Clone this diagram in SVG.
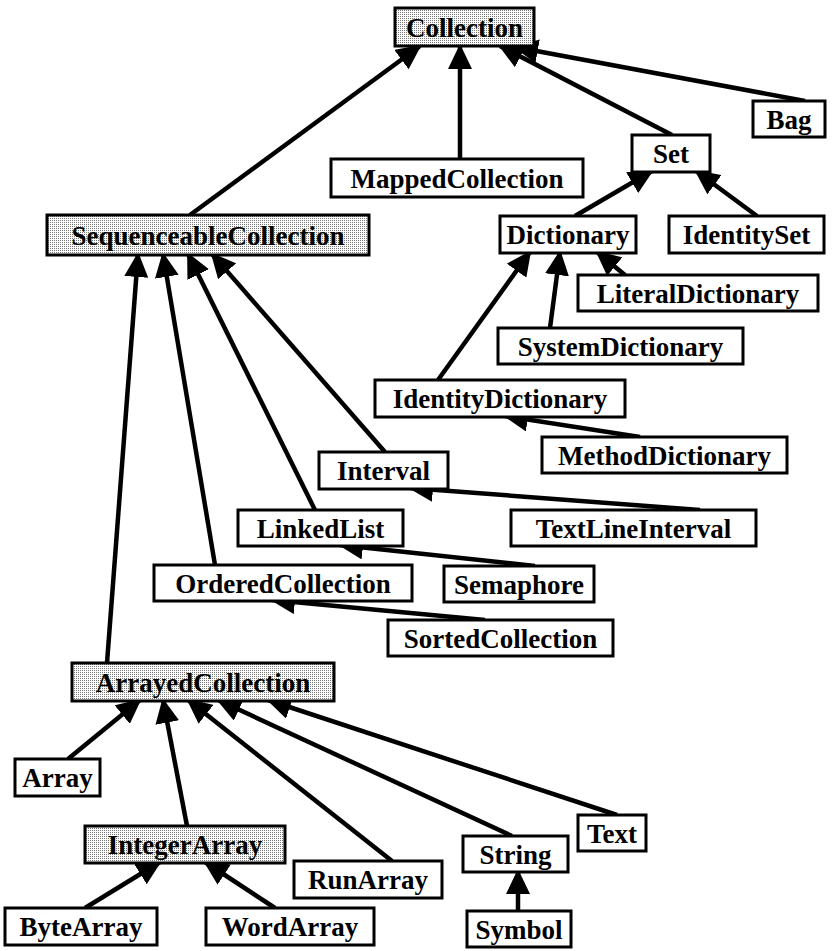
<svg xmlns="http://www.w3.org/2000/svg" width="833" height="951" viewBox="0 0 833 951">
<defs>
<pattern id="dots" width="2" height="2" patternUnits="userSpaceOnUse">
<rect width="2" height="2" fill="#ffffff"/>
<rect width="1" height="1" fill="#777777"/>
</pattern>
<marker id="ah" markerUnits="userSpaceOnUse" markerWidth="25" markerHeight="24" refX="23" refY="12" orient="auto">
<path d="M0,0 L25,12 L0,24 z" fill="#000"/>
</marker>
</defs>
<style>
.box{fill:#fff;stroke:#000;stroke-width:3}
.abs{fill:url(#dots);stroke:#000;stroke-width:3}
.lbl{font-family:"Liberation Serif","Times New Roman",serif;font-weight:bold;font-size:27px;text-anchor:middle;fill:#000}
.c line{stroke:#000;stroke-width:4.5;marker-end:url(#ah)}
</style>
<rect width="833" height="951" fill="#fff"/>
<g id="connectors" class="c">
<line x1="190" y1="215" x2="420" y2="46"/>
<line x1="460" y1="159" x2="460" y2="46"/>
<line x1="672" y1="135" x2="500" y2="46"/>
<line x1="805" y1="101" x2="515" y2="47"/>
<line x1="575" y1="216" x2="652" y2="171"/>
<line x1="757" y1="216" x2="696" y2="171"/>
<line x1="625" y1="275" x2="597" y2="252"/>
<line x1="550" y1="328" x2="560" y2="252"/>
<line x1="438" y1="380" x2="530" y2="252"/>
<line x1="640" y1="437" x2="505" y2="416"/>
<line x1="385" y1="452" x2="212" y2="254"/>
<line x1="315" y1="510" x2="188" y2="254"/>
<line x1="215" y1="565" x2="163" y2="254"/>
<line x1="107" y1="663" x2="138" y2="254"/>
<line x1="700" y1="510" x2="410" y2="488"/>
<line x1="535" y1="566" x2="340" y2="545"/>
<line x1="485" y1="620" x2="272" y2="600"/>
<line x1="68" y1="759" x2="140" y2="700"/>
<line x1="187" y1="826" x2="163" y2="700"/>
<line x1="392" y1="861" x2="188" y2="700"/>
<line x1="512" y1="836" x2="218" y2="700"/>
<line x1="617" y1="815" x2="268" y2="700"/>
<line x1="85" y1="908" x2="160" y2="862"/>
<line x1="275" y1="908" x2="205" y2="862"/>
<line x1="518" y1="911" x2="518" y2="871"/>
</g>
<g id="Collection"><rect class="abs" x="395" y="8" width="139" height="38"/><text class="lbl" x="464.5" y="36.5">Collection</text></g>
<g id="Bag"><rect class="box" x="753" y="101" width="72" height="36"/><text class="lbl" x="789" y="128.5">Bag</text></g>
<g id="Set"><rect class="box" x="632" y="135" width="78" height="37"/><text class="lbl" x="671" y="163">Set</text></g>
<g id="MappedCollection"><rect class="box" x="331" y="159" width="252" height="38"/><text class="lbl" x="457" y="187.5">MappedCollection</text></g>
<g id="SequenceableCollection"><rect class="abs" x="47" y="215" width="322" height="40"/><text class="lbl" x="208" y="244.5">SequenceableCollection</text></g>
<g id="Dictionary"><rect class="box" x="500" y="216" width="136" height="37"/><text class="lbl" x="568" y="244">Dictionary</text></g>
<g id="IdentitySet"><rect class="box" x="669" y="216" width="155" height="37"/><text class="lbl" x="746.5" y="244">IdentitySet</text></g>
<g id="LiteralDictionary"><rect class="box" x="578" y="275" width="240" height="36"/><text class="lbl" x="698" y="302.5">LiteralDictionary</text></g>
<g id="SystemDictionary"><rect class="box" x="498" y="328" width="245" height="36"/><text class="lbl" x="620.5" y="355.5">SystemDictionary</text></g>
<g id="IdentityDictionary"><rect class="box" x="375" y="380" width="250" height="37"/><text class="lbl" x="500" y="408">IdentityDictionary</text></g>
<g id="MethodDictionary"><rect class="box" x="542" y="437" width="245" height="36"/><text class="lbl" x="664.5" y="464.5">MethodDictionary</text></g>
<g id="Interval"><rect class="box" x="319" y="452" width="129" height="37"/><text class="lbl" x="383.5" y="480">Interval</text></g>
<g id="TextLineInterval"><rect class="box" x="511" y="510" width="245" height="36"/><text class="lbl" x="633.5" y="537.5">TextLineInterval</text></g>
<g id="LinkedList"><rect class="box" x="238" y="510" width="165" height="36"/><text class="lbl" x="320.5" y="537.5">LinkedList</text></g>
<g id="OrderedCollection"><rect class="box" x="154" y="565" width="258" height="36"/><text class="lbl" x="283" y="592.5">OrderedCollection</text></g>
<g id="Semaphore"><rect class="box" x="444" y="566" width="150" height="36"/><text class="lbl" x="519" y="593.5">Semaphore</text></g>
<g id="SortedCollection"><rect class="box" x="388" y="620" width="225" height="36"/><text class="lbl" x="500.5" y="647.5">SortedCollection</text></g>
<g id="ArrayedCollection"><rect class="abs" x="72" y="663" width="262" height="38"/><text class="lbl" x="203" y="691.5">ArrayedCollection</text></g>
<g id="Array"><rect class="box" x="15" y="759" width="85" height="37"/><text class="lbl" x="57.5" y="787">Array</text></g>
<g id="Text"><rect class="box" x="578" y="815" width="68" height="36"/><text class="lbl" x="612" y="842.5">Text</text></g>
<g id="IntegerArray"><rect class="abs" x="85" y="826" width="200" height="37"/><text class="lbl" x="185" y="854">IntegerArray</text></g>
<g id="String"><rect class="box" x="463" y="836" width="105" height="36"/><text class="lbl" x="515.5" y="863.5">String</text></g>
<g id="RunArray"><rect class="box" x="294" y="861" width="148" height="37"/><text class="lbl" x="368" y="889">RunArray</text></g>
<g id="ByteArray"><rect class="box" x="5" y="908" width="152" height="37"/><text class="lbl" x="81" y="936">ByteArray</text></g>
<g id="WordArray"><rect class="box" x="206" y="908" width="168" height="37"/><text class="lbl" x="290" y="936">WordArray</text></g>
<g id="Symbol"><rect class="box" x="467" y="911" width="104" height="36"/><text class="lbl" x="519" y="938.5">Symbol</text></g>
</svg>
